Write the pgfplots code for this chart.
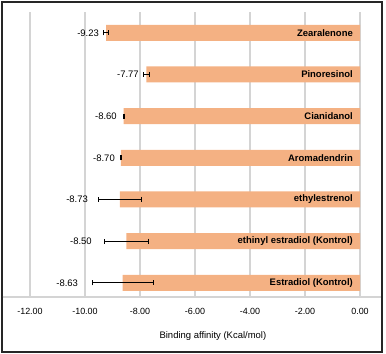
\documentclass[border=0pt]{standalone}
\usepackage{pgfplots}
\usepackage{pgfplotstable}
\usepackage{fontspec}
\setmainfont{Liberation Sans}
\pgfplotsset{compat=1.18}
\definecolor{barc}{RGB}{244,177,131}
\definecolor{gridc}{RGB}{212,212,212}
\pgfplotstableread[col sep=comma]{
y,val,err,lx,lab,zx,name
6,-9.23,0.10,-9.49,-9.23,0,Zearalenone
5,-7.77,0.10,-8.04,-7.77,0,Pinoresinol
4,-8.60,0.02,-8.84,-8.60,0,Cianidanol
3,-8.70,0.02,-8.91,-8.70,0,Aromadendrin
2,-8.73,0.77,-9.89,-8.73,0,ethylestrenol
1,-8.50,0.80,-9.75,-8.50,0,ethinyl estradiol (Kontrol)
0,-8.63,1.11,-10.25,-8.63,0,Estradiol (Kontrol)
}\data
\begin{document}
\begin{tikzpicture}
\path[use as bounding box] (0,0) rectangle (386bp,354bp);
\draw[line width=1.6bp, black!85] (2bp,2bp) rectangle (382bp,352bp);
\begin{axis}[
 at={(2.5bp,57bp)}, anchor=south west,
 scale only axis, width=378.4bp, height=285bp,
 xmin=-13, xmax=0.76, ymin=-0.34, ymax=6.5,
 axis line style={draw=none},
 xtick={-12,-10,-8,-6,-4,-2,0}, ytick=\empty,
 xtick pos=bottom,
 major tick length=0pt,
 grid=major, major grid style={draw=gridc, line width=1.2bp},
 xticklabel style={font=\fontsize{9}{10}\selectfont, yshift=-8bp},
 /pgf/number format/.cd, fixed, fixed zerofill, precision=2, assume math mode=true, /pgfplots/.cd,
 xlabel={Binding affinity (Kcal/mol)},
 xlabel style={font=\fontsize{9.5}{11}\selectfont, at={(rel axis cs:0.556,0)}, anchor=north, yshift=-31bp},
 clip=false,
]
\draw[gridc, line width=1.2bp] (rel axis cs:0,0) -- (rel axis cs:1,0);
\addplot[xbar, bar width=16bp, fill=barc, draw=none,
  error bars/.cd, x dir=both, x explicit,
  error bar style={black, line width=0.9bp},
  error mark options={black, line width=0.9bp, mark size=2.5bp, rotate=90}]
  table[x=val, y=y, x error=err]{\data};
\addplot[draw=none, nodes near coords, point meta=explicit symbolic,
  nodes near coords style={anchor=east, font=\fontsize{9.5}{11}\selectfont, inner sep=0pt}]
  table[x=lx, y=y, meta=lab]{\data};
\addplot[draw=none, nodes near coords, point meta=explicit symbolic,
  nodes near coords style={anchor=east, font=\bfseries\fontsize{9.5}{11}\selectfont, inner sep=0pt, xshift=-7bp}]
  table[x=zx, y=y, meta=name]{\data};
\end{axis}
\end{tikzpicture}
\end{document}
